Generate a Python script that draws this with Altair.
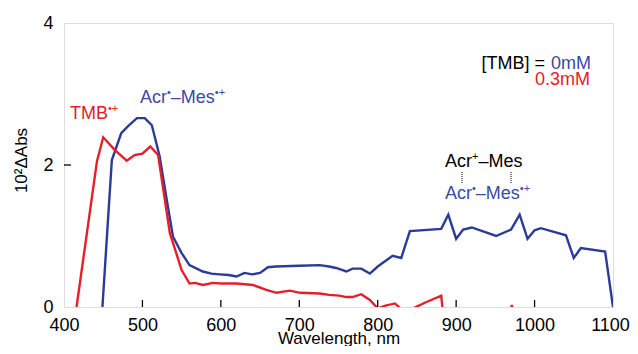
import altair as alt
import pandas as pd

# ---- data ----
blue_wl = [449, 461, 473, 482, 493, 503, 512, 522, 531, 539, 550, 560, 577, 588, 598, 610, 620,
           630, 640, 650, 660, 670, 700, 726, 738, 747, 760, 768, 779, 790, 800, 819, 830, 841,
           881, 890, 900, 909, 920, 951, 970, 981, 991, 1000, 1008, 1040, 1050, 1059, 1090, 1100]
blue_abs = [0.0, 2.07, 2.45, 2.55, 2.66, 2.66, 2.56, 2.12, 1.51, 0.99, 0.76, 0.59, 0.50, 0.47, 0.46,
            0.45, 0.43, 0.48, 0.46, 0.48, 0.56, 0.57, 0.58, 0.59, 0.57, 0.55, 0.50, 0.54, 0.54,
            0.47, 0.57, 0.72, 0.69, 1.07, 1.10, 1.30, 0.96, 1.09, 1.12, 1.00, 1.09, 1.30, 0.96,
            1.08, 1.11, 1.01, 0.69, 0.83, 0.78, 0.0]

red_wl = [416, 442, 450, 465, 480, 490, 500, 510, 520, 535, 550, 560, 567, 577, 590, 600, 620,
          641, 658, 671, 688, 701, 726, 738, 751, 760, 768, 779, 790, 800, 810, 822, 832, 845,
          860, 881, 886, 965, 971, 976, 1000]
red_abs = [0.0, 2.05, 2.39, 2.21, 2.06, 2.14, 2.16, 2.26, 2.14, 1.04, 0.52, 0.33, 0.34, 0.31,
           0.34, 0.33, 0.33, 0.31, 0.24, 0.20, 0.23, 0.20, 0.19, 0.17, 0.16, 0.14, 0.14, 0.18,
           0.10, -0.02, 0.02, 0.05, -0.05, -0.02, 0.06, 0.16, -0.40, -0.30, 0.03, -0.30, -0.40]

series_names = ["0mM", "0.3mM"]
series_colors = ["#2b3b98", "#e3202a"]

x_ticks = [500, 600, 700, 800, 900, 1000]
y_ticks = [2]
x_labels = [400, 500, 600, 700, 800, 900, 1000, 1100]
y_labels = [0, 2, 4]

df = pd.concat([
    pd.DataFrame({"wl": blue_wl, "abs": blue_abs, "series": series_names[0], "order": range(len(blue_wl))}),
    pd.DataFrame({"wl": red_wl, "abs": red_abs, "series": series_names[1], "order": range(len(red_wl))}),
])

FONT = "Liberation Sans"
BLUE_TXT = "#3a4aa3"
RED_TXT = "#e3202a"

xs = alt.Scale(domain=[400, 1100], nice=False, zero=False)
ys = alt.Scale(domain=[0, 4], nice=False)

lines = alt.Chart(df).mark_line(strokeWidth=2.4, clip=True).encode(
    x=alt.X("wl:Q", scale=xs, axis=alt.Axis(
        values=x_labels, format="d", title="Wavelength, nm", tickSize=0, domain=False,
        grid=False, labelFont=FONT, labelFontSize=18, labelColor="black", labelPadding=9,
        labelOffset={"condition": {"test": "datum.value == 1100", "value": -3}, "value": 0},
        titleFont=FONT, titleFontSize=17, titleFontWeight="normal", titleColor="black",
        titleBaseline="alphabetic", titleY=36, labelFlush=False, labelOverlap=False)),
    y=alt.Y("abs:Q", scale=ys, axis=alt.Axis(
        values=y_labels, format="d", title="10²ΔAbs", tickSize=0, domain=False, grid=False,
        labelFont=FONT, labelFontSize=18, labelColor="black", labelPadding=11,
        titleFont=FONT, titleFontSize=17, titleFontWeight="normal", titleColor="black",
        titleX=-43, titleY=137, titleBaseline="middle", titleAlign="center",
        labelFlush=False, labelOverlap=False)),
    color=alt.Color("series:N", scale=alt.Scale(domain=series_names, range=series_colors), legend=None),
    order="order:Q",
)

xt = alt.Chart(pd.DataFrame({"t": x_ticks})).mark_rule(color="black", strokeWidth=1.3).encode(
    x=alt.X("t:Q", scale=xs), y=alt.value(284), y2=alt.value(277))
yt = alt.Chart(pd.DataFrame({"t": y_ticks})).mark_rule(color="black", strokeWidth=1.3).encode(
    y=alt.Y("t:Q", scale=ys), x=alt.value(0), x2=alt.value(7))

one = alt.Data(values=[{}])

# Arial / Liberation Sans advance widths (per 1000 em) for laying out superscripts
ADV = {"A": 667, "c": 500, "r": 333, "–": 556, "M": 833, "e": 556, "s": 500, "T": 611,
       "B": 667, "+": 584, "•": 350, " ": 278}


def txt(text, x, y, color, align="left", size=18):
    return alt.Chart(one).mark_text(text=text, x=x, y=y, color=color, align=align,
                                    baseline="alphabetic", font=FONT, fontSize=size)


def rich(segments, x, y, color, size=18, sup_size=11, rise=7):
    out = []
    cx = x
    for text, sup in segments:
        fs = sup_size if sup else size
        out.append(txt(text, cx, y - (rise if sup else 0), color, size=fs))
        cx += sum(ADV.get(ch, 556) for ch in text) * fs / 1000.0
    return out


ann = (
    rich([("Acr", False), ("•", True), ("–Mes", False), ("•+", True)], 76, 80, BLUE_TXT)
    + rich([("TMB", False), ("•+", True)], 6, 96, RED_TXT)
    + [txt("[TMB] =", 481, 46, "black", align="right"),
       txt("0mM", 487, 46, BLUE_TXT),
       txt("0.3mM", 526, 62, RED_TXT, align="right")]
    + rich([("Acr", False), ("+", True), ("–Mes", False)], 381, 144, "black")
    + rich([("Acr", False), ("•", True), ("–Mes", False), ("•+", True)], 381, 176, BLUE_TXT)
)

dots = [
    alt.Chart(one).mark_rule(color="#555555", strokeWidth=1.5, strokeDash=[1, 1]).encode(
        x=alt.value(px), y=alt.value(149), y2=alt.value(160))
    for px in (398, 447)
]

chart = alt.layer(lines, xt, yt, *ann, *dots).properties(
    width=549, height=284,
    autosize=alt.AutoSizeParams(type="none"),
    padding={"left": 56, "top": 15, "right": 17, "bottom": 39},
).configure_view(stroke="black", strokeWidth=1.6).configure(background="white")

chart.save("out.html", embed_options={"renderer": "svg", "actions": False})
